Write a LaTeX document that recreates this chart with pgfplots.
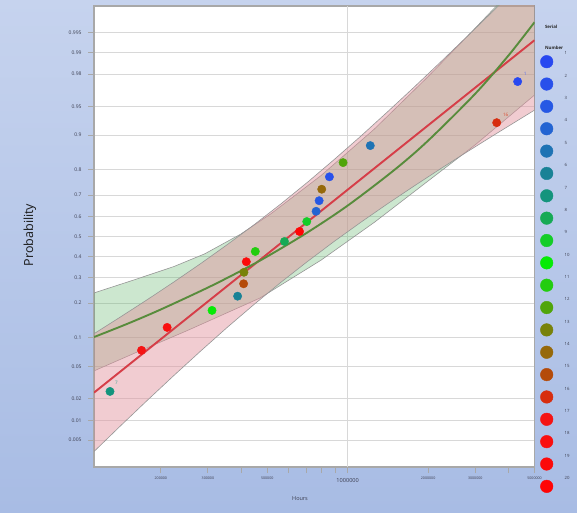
\documentclass[border=0pt]{standalone}
\usepackage{pgfplots}
\usepackage{pgfplotstable}
\pgfplotsset{compat=1.18}
\usepackage{fontspec}
\setmainfont{Open Sans}

\definecolor{bgtop}{RGB}{198,211,238}
\definecolor{bgbot}{RGB}{168,188,228}
\definecolor{lnfit}{RGB}{214,62,72}
\definecolor{wbfit}{RGB}{88,140,60}
\definecolor{lnband}{RGB}{226,144,155}
\definecolor{wbband}{RGB}{88,178,98}
\definecolor{bandedge}{RGB}{150,150,150}
\definecolor{ticktext}{RGB}{60,62,80}
\definecolor{axisgray}{RGB}{168,168,168}
\definecolor{gridgray}{RGB}{216,216,216}
% serial number colours
\definecolor{c1}{RGB}{40,72,240}
\definecolor{c2}{RGB}{40,80,235}
\definecolor{c3}{RGB}{38,88,228}
\definecolor{c4}{RGB}{35,100,210}
\definecolor{c5}{RGB}{30,115,180}
\definecolor{c6}{RGB}{25,130,150}
\definecolor{c7}{RGB}{20,148,125}
\definecolor{c8}{RGB}{22,170,85}
\definecolor{c9}{RGB}{20,205,40}
\definecolor{c10}{RGB}{5,235,5}
\definecolor{c11}{RGB}{35,205,15}
\definecolor{c12}{RGB}{80,165,10}
\definecolor{c13}{RGB}{120,130,10}
\definecolor{c14}{RGB}{150,105,10}
\definecolor{c15}{RGB}{180,75,10}
\definecolor{c16}{RGB}{215,45,15}
\definecolor{c17}{RGB}{245,20,20}
\definecolor{c18}{RGB}{250,15,15}
\definecolor{c19}{RGB}{252,10,10}
\definecolor{c20}{RGB}{255,5,5}

% failure times (hours) and normal quantile of the plotting position
\pgfplotstableread{
t z serial
129100 -1.960 s7
169400 -1.440 s17
211200 -1.150 s18
310900 -0.935 s10
387600 -0.755 s6
408100 -0.598 s15
409200 -0.453 s13
417700 -0.319 s19
451300 -0.189 s11
580300 -0.063 s8
660500 0.063 s20
703100 0.189 s9
762100 0.319 s4
782200 0.453 s3
799800 0.598 s14
854500 0.755 s2
961200 0.935 s12
1215000 1.150 s5
3610000 1.440 s16
4324000 1.960 s1
}\failures

% key entries: position on the page and serial number
\pgfplotstableread{
x y serial num
546.7 450.30 s1 1
546.7 427.95 s2 2
546.7 405.60 s3 3
546.7 383.25 s4 4
546.7 360.90 s5 5
546.7 338.55 s6 6
546.7 316.20 s7 7
546.7 293.85 s8 8
546.7 271.50 s9 9
546.7 249.15 s10 10
546.7 226.80 s11 11
546.7 204.45 s12 12
546.7 182.10 s13 13
546.7 159.75 s14 14
546.7 137.40 s15 15
546.7 115.05 s16 16
546.7 92.70 s17 17
546.7 70.35 s18 18
546.7 48.00 s19 19
546.7 25.65 s20 20
}\keytable

\pgfplotsset{
  serialclasses/.style={
    scatter/classes={
      s1={draw=c1,fill=c1}, s2={draw=c2,fill=c2}, s3={draw=c3,fill=c3},
      s4={draw=c4,fill=c4}, s5={draw=c5,fill=c5}, s6={draw=c6,fill=c6},
      s7={draw=c7,fill=c7}, s8={draw=c8,fill=c8}, s9={draw=c9,fill=c9},
      s10={draw=c10,fill=c10}, s11={draw=c11,fill=c11}, s12={draw=c12,fill=c12},
      s13={draw=c13,fill=c13}, s14={draw=c14,fill=c14}, s15={draw=c15,fill=c15},
      s16={draw=c16,fill=c16}, s17={draw=c17,fill=c17}, s18={draw=c18,fill=c18},
      s19={draw=c19,fill=c19}, s20={draw=c20,fill=c20}
    }
  }
}

\begin{document}
\begin{tikzpicture}
\shade[top color=bgtop, bottom color=bgbot] (0pt,0pt) rectangle (577pt,512pt);
\useasboundingbox (0pt,0pt) rectangle (577pt,512pt);

\begin{axis}[
  at={(94pt,45pt)}, anchor=south west,
  scale only axis, width=440.5pt, height=461pt,
  xmode=log, xmin=112500, xmax=5000000,
  ymin=-2.916, ymax=2.916,
  axis background/.style={fill=white},
  axis line style={draw=axisgray, line width=1.3pt},
  tick align=outside,
  xtick pos=bottom, ytick pos=left,
  xminorticks=false, yminorticks=false,
  major tick style={draw=axisgray, line width=0.9pt},
  major tick length=6pt,
  ymajorgrids,
  major grid style={draw=gridgray, line width=1.1pt},
  ytick={-2.576,-2.326,-2.054,-1.645,-1.282,-0.842,-0.524,-0.253,0,0.253,0.524,0.842,1.282,1.645,2.054,2.326,2.576},
  yticklabels={0.005,0.01,0.02,0.05,0.1,0.2,0.3,0.4,0.5,0.6,0.7,0.8,0.9,0.95,0.98,0.99,0.995},
  yticklabel style={font=\fontsize{5}{6}\selectfont, text=ticktext, xshift=-3pt},
  xtick={200000,300000,400000,500000,600000,700000,800000,900000,2000000,3000000,4000000,5000000},
  xticklabels={200000,300000,,500000,,,,,2000000,3000000,,5000000},
  xticklabel style={font=\fontsize{3.6}{4}\selectfont, text=ticktext},
  extra x ticks={1000000},
  extra x tick labels={1000000},
  extra x tick style={xmajorgrids=true,
    xticklabel style={font=\fontsize{5.6}{6}\selectfont, text=ticktext, yshift=-2pt}},
]

% Weibull confidence band
\addplot[fill=wbband, fill opacity=0.3, draw=bandedge, line width=0.6pt] coordinates {
(112500,-0.714) (158489,-0.550) (223872,-0.380) (291743,-0.220) (398107,0.030)
(517607,0.290) (794328,0.770) (1258925,1.360) (1995262,2.020) (2818383,2.540)
(3539973,2.890) (5000000,3.440)
(5000000,1.790) (3013006,1.165) (1995262,0.700) (1258925,0.180) (794328,-0.300)
(468813,-0.780) (354813,-0.963) (251189,-1.190) (158489,-1.480) (112500,-1.700)
} -- cycle;

% lognormal confidence band
\addplot[fill=lnband, fill opacity=0.45, draw=bandedge, line width=0.6pt] coordinates {
(112500,-1.230) (141254,-1.018) (177828,-0.800) (223872,-0.575) (281838,-0.343)
(354813,-0.102) (446684,0.149) (562341,0.412) (707946,0.687) (891251,0.975)
(1122018,1.272) (1412538,1.580) (1778279,1.894) (2238721,2.215) (2818383,2.541)
(3548134,2.871) (4466836,3.203) (5000000,3.367)
(5000000,1.599) (4466836,1.497) (3548134,1.289) (2818383,1.078) (2238721,0.863)
(1778279,0.642) (1412538,0.416) (1122018,0.182) (891251,-0.061) (707946,-0.315)
(562341,-0.580) (446684,-0.859) (354813,-1.148) (281838,-1.449) (223872,-1.758)
(177828,-2.074) (141254,-2.396) (112500,-2.720)
} -- cycle;

% lognormal fit
\addplot[lnfit, line width=1.9pt] coordinates {(112500,-1.975) (5000000,2.483)};

% Weibull fit
\addplot[wbfit, line width=1.9pt, smooth] coordinates {
(112500,-1.272) (150000,-1.104) (200000,-0.923) (300000,-0.646) (400000,-0.432)
(500000,-0.253) (700000,0.042) (1000000,0.391) (1500000,0.846) (2000000,1.213)
(3000000,1.806) (4000000,2.292) (5000000,2.711)
};

% failures
\addplot[scatter, only marks, mark=*, mark size=4.2pt, serialclasses,
  scatter src=explicit symbolic] table[x=t, y=z, meta=serial] {\failures};

% serial labels next to selected points
\addplot[draw=none, mark=none, nodes near coords, point meta=explicit symbolic,
  nodes near coords style={font=\fontsize{4.6}{5}\selectfont, text=c7!85!white, anchor=center, xshift=6.5pt, yshift=8.5pt}]
  coordinates {(129100,-1.960) [7]};
\addplot[draw=none, mark=none, nodes near coords, point meta=explicit symbolic,
  nodes near coords style={font=\fontsize{4.6}{5}\selectfont, text=c16!85!white, anchor=center, xshift=9pt, yshift=7.5pt}]
  coordinates {(3610000,1.440) [16]};
\addplot[draw=none, mark=none, nodes near coords, point meta=explicit symbolic,
  nodes near coords style={font=\fontsize{4.6}{5}\selectfont, text=c1!80!white, anchor=center, xshift=7.5pt, yshift=7.5pt}]
  coordinates {(4324000,1.960) [1]};
\end{axis}

% key of serial numbers
\begin{axis}[
  at={(0pt,0pt)}, anchor=south west,
  scale only axis, width=577pt, height=512pt,
  xmin=0, xmax=577, ymin=0, ymax=512,
  hide axis, clip=false,
]
\addplot[scatter, only marks, mark=*, mark size=6.3pt, serialclasses,
  scatter src=explicit symbolic] table[x=x, y=y, meta=serial] {\keytable};
\addplot[draw=none, mark=none, nodes near coords, point meta=explicit symbolic,
  nodes near coords style={font=\fontsize{4.3}{5}\selectfont, text=ticktext, anchor=west, xshift=14.3pt, yshift=8.3pt}]
  table[x=x, y=y, meta=num] {\keytable};
\node[anchor=west, font=\fontsize{4.4}{5}\selectfont\bfseries, text=black!85] at (axis cs:541.5,485.3) {Serial};
\node[anchor=west, font=\fontsize{4.4}{5}\selectfont\bfseries, text=black!85] at (axis cs:541.5,464.3) {Number};
\end{axis}

\node[font=\fontsize{5.5}{6}\selectfont, text=ticktext] at (300pt,13pt) {Hours};
\node[rotate=90, font=\fontsize{12.5}{14}\selectfont, text=black!90] at (30pt,277pt) {Probability};
\end{tikzpicture}
\end{document}
